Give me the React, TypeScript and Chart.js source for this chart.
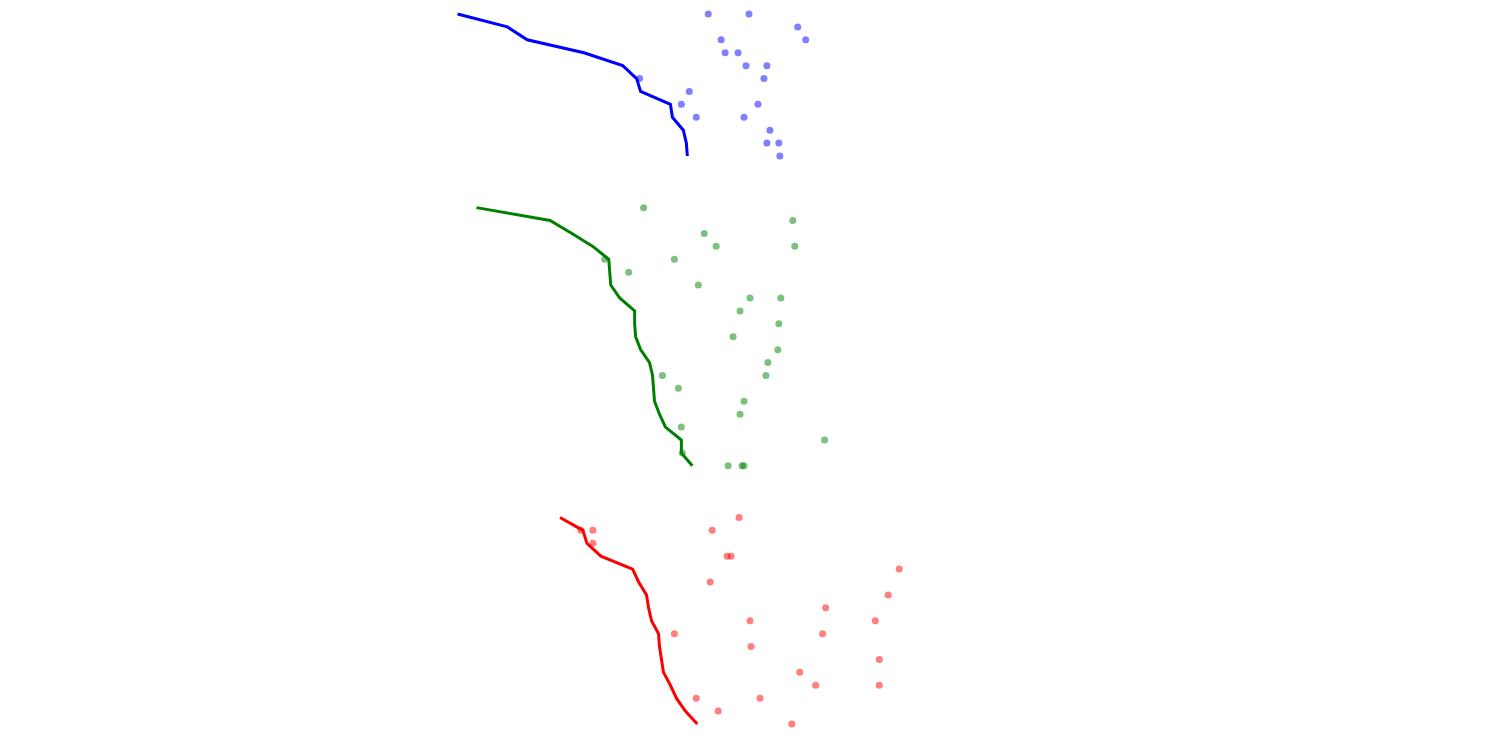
import React, { useEffect, useRef } from "react";
import { Chart, registerables } from "chart.js";

Chart.register(...registerables);

// Row indices (vertical position, top = 0)
const blueRows = [0, 1, 2, 3, 4, 5, 6, 7, 8, 9, 10, 11];
const greenRows = [15, 16, 17, 18, 19, 20, 21, 22, 23, 24, 25, 26, 27, 28, 29, 30, 31, 32, 33, 34, 35];
const redRows = [39, 40, 41, 42, 43, 44, 45, 46, 47, 48, 49, 50, 51, 52, 53, 54, 55];

// Line series values (one per row)
const blueLine = [44.8, 49.8, 51.8, 57.5, 61.4, 62.8, 63.2, 66.2, 66.4, 67.5, 67.8, 67.9];
const greenLine = [46.7, 54.1, 56.3, 58.4, 60.0, 60.1, 60.2, 61.1, 62.6, 62.6, 62.7, 63.2, 64.1, 64.4, 64.5, 64.6, 65.1, 65.7, 67.3, 67.3, 68.4];
const redLine = [55.1, 57.4, 57.8, 59.2, 62.4, 63.0, 63.8, 64.0, 64.3, 65.0, 65.1, 65.3, 65.5, 66.2, 66.8, 67.7, 68.9];

// Scatter points: [row, value]
const bluePoints: [number, number][] = [
  [0, 70.0], [0, 74.1], [1, 79.0], [2, 71.3], [2, 79.8], [3, 71.7], [3, 73.0],
  [4, 73.8], [4, 75.9], [5, 63.1], [5, 75.6], [6, 68.1], [7, 67.3], [7, 75.0],
  [8, 68.8], [8, 73.6], [9, 76.2], [10, 75.9], [10, 77.1], [11, 77.2],
];
const greenPoints: [number, number][] = [
  [15, 63.5], [16, 78.5], [17, 69.6], [18, 70.8], [18, 78.7], [19, 59.6], [19, 66.6],
  [20, 62.0], [21, 69.0], [22, 74.2], [22, 77.3], [23, 73.2], [24, 77.1], [25, 72.5],
  [26, 77.0], [27, 76.0], [28, 65.4], [28, 75.8], [29, 67.0], [30, 73.6], [31, 73.2],
  [32, 67.3], [33, 81.7], [34, 67.4], [35, 72.0], [35, 73.4], [35, 73.6],
];
const redPoints: [number, number][] = [
  [39, 73.1], [40, 57.2], [40, 58.4], [40, 70.4], [41, 58.4], [42, 71.9], [42, 72.3],
  [43, 89.2], [44, 70.2], [45, 88.1], [46, 81.8], [47, 74.2], [47, 86.8], [48, 66.6],
  [48, 81.5], [49, 74.3], [50, 87.2], [51, 79.2], [52, 80.8], [52, 87.2], [53, 68.8],
  [53, 75.2], [54, 71.0], [55, 78.4],
];

const toLine = (rows: number[], vals: number[]) => rows.map((r, i) => ({ x: vals[i], y: r }));
const toPts = (pts: [number, number][]) => pts.map(([r, v]) => ({ x: v, y: r }));

export default function App() {
  const ref = useRef<HTMLCanvasElement | null>(null);
  useEffect(() => {
    if (!ref.current) return;
    const lineDs = (data: any, color: string) => ({
      type: "line" as const,
      data,
      showLine: true,
      borderColor: color,
      borderWidth: 3,
      pointRadius: 0,
      fill: false,
      tension: 0,
      clip: false,
      order: 0,
    });
    const ptDs = (data: any, color: string) => ({
      type: "scatter" as const,
      data,
      backgroundColor: color,
      borderColor: color,
      borderWidth: 0,
      pointRadius: 3.5,
      showLine: false,
      clip: false,
      order: 1,
    });
    const chart = new Chart(ref.current, {
      type: "scatter",
      data: {
        datasets: [
          lineDs(toLine(blueRows, blueLine), "#0000ff"),
          lineDs(toLine(greenRows, greenLine), "#008000"),
          lineDs(toLine(redRows, redLine), "#ff0000"),
          ptDs(toPts(bluePoints), "rgba(0,0,255,0.5)"),
          ptDs(toPts(greenPoints), "rgba(0,128,0,0.5)"),
          ptDs(toPts(redPoints), "rgba(255,0,0,0.5)"),
        ] as any,
      },
      options: {
        animation: false,
        responsive: true,
        maintainAspectRatio: false,
        layout: { padding: { top: 6, bottom: 18, left: 0, right: 0 } },
        plugins: { legend: { display: false }, tooltip: { enabled: false } },
        scales: {
          x: { type: "linear", min: 0, max: 148.4, display: false },
          y: { type: "linear", min: 0, max: 55, reverse: true, display: false },
        },
      },
    });
    return () => chart.destroy();
  }, []);
  return (
    <div style={{ position: "relative", width: "100%", height: "734px" }}>
      <canvas ref={ref} />
    </div>
  );
}
